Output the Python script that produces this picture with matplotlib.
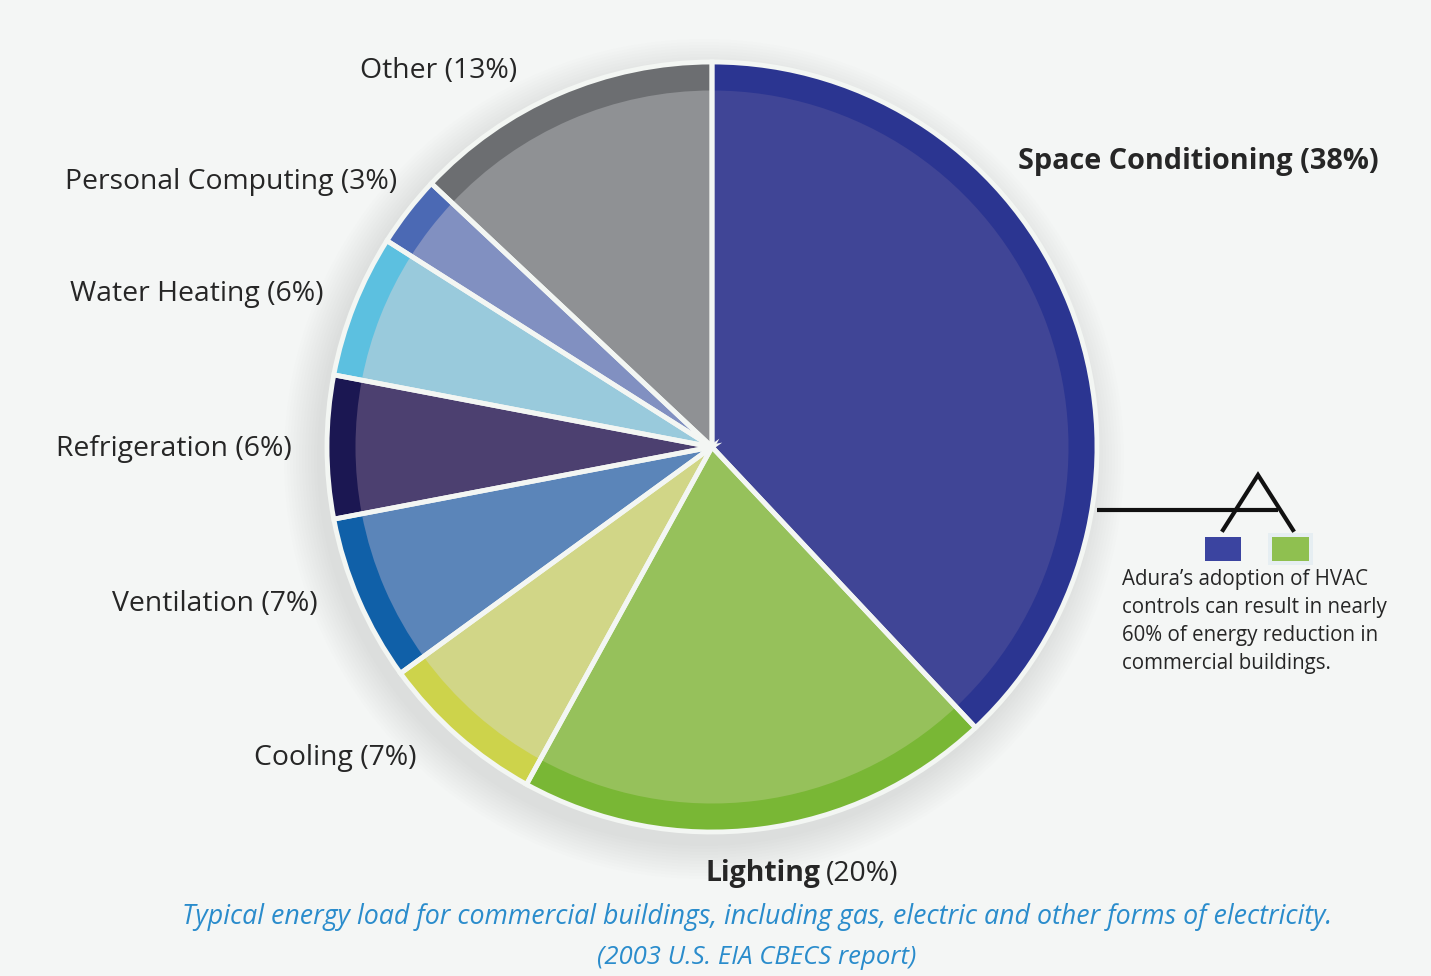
import numpy as np
import matplotlib.pyplot as plt
from matplotlib.patches import Circle, Rectangle

# energy load shares, clockwise from 12 o'clock
categories = ['Space Conditioning', 'Lighting', 'Cooling', 'Ventilation',
              'Refrigeration', 'Water Heating', 'Personal Computing', 'Other']
shares = [38, 20, 7, 7, 6, 6, 3, 13]
rim_colors = ['#2b3591', '#79b735', '#cdd34b', '#1060a8',
              '#1b1752', '#5cc0e0', '#4b69b4', '#6c6e71']
fill_colors = ['#404596', '#96c15b', '#d1d687', '#5b85b9',
               '#4c4070', '#99cadc', '#8190c1', '#8f9194']

W, H = 1431, 976
fig = plt.figure(figsize=(W / 100, H / 100), dpi=100)
fig.patch.set_facecolor('#f4f6f5')
ax = fig.add_axes([0, 0, 1, 1])
ax.set_facecolor('#f4f6f5')

cx, cy, r = 712, H - 447, 385

# soft shadow behind the pie
for k in range(12):
    ax.add_patch(Circle((cx - 8, cy - 12), r + 2 + k * 3, color='#a0a2a2',
                        alpha=0.02, lw=0, zorder=0))

common = dict(startangle=90, counterclock=False, center=(cx, cy))
ax.pie(shares, radius=r, colors=rim_colors,
       wedgeprops=dict(linewidth=0), **common)
ax.pie(shares, radius=r * 0.926, colors=fill_colors,
       wedgeprops=dict(linewidth=0), **common)
ax.pie(shares, radius=r, colors=['none'] * len(shares),
       wedgeprops=dict(edgecolor='#f3f6f3', linewidth=3.5), **common)

ax.set_xlim(0, W)
ax.set_ylim(0, H)
ax.set_aspect('equal')
ax.axis('off')

plt.rcParams['font.family'] = ['Open Sans', 'DejaVu Sans']
txt = '#262626'
fs = 20.4

# slice labels
label_pos = {
    'Other': (439, 71),
    'Personal Computing': (231, 182),
    'Water Heating': (197, 294),
    'Refrigeration': (174, 449),
    'Ventilation': (215, 604),
    'Cooling': (335, 758),
}
for name, v in zip(categories, shares):
    if name in label_pos:
        x, y = label_pos[name]
        ax.text(x, H - y, f'{name} ({v}%)', ha='center', va='center',
                fontsize=fs, color=txt)

ax.text(1198, H - 161, f'{categories[0]} ({shares[0]}%)', ha='center',
        va='center', fontsize=20.8, fontweight='bold', color=txt)
ax.text(821, H - 874, categories[1], ha='right', va='center',
        fontsize=20.4, fontweight='bold', color=txt)
ax.text(826, H - 874, f'({shares[1]}%)', ha='left', va='center',
        fontsize=fs, color=txt)

# HVAC callout
ax.plot([1097, 1278], [H - 510, H - 510], color='#111111', lw=3,
        solid_capstyle='butt')
ax.plot([1223, 1258, 1293], [H - 530, H - 475, H - 530], color='#111111',
        lw=3, solid_joinstyle='miter')
ax.add_patch(Rectangle((1205, H - 561), 36, 24, color='#3b44a0', lw=0))
ax.add_patch(Rectangle((1268, H - 565), 45, 32, color='#e6eef2', lw=0))
ax.add_patch(Rectangle((1272, H - 561), 37, 24, color='#8fc050', lw=0))
ax.text(1122, H - 569, "Adura’s adoption of HVAC\ncontrols can result in nearly\n"
        "60% of energy reduction in\ncommercial buildings.",
        ha='left', va='top', fontsize=14.8, color=txt, linespacing=1.44)

# caption
cap = '#2a8ccc'
ax.text(757, H - 917, 'Typical energy load for commercial buildings, including gas, '
        'electric and other forms of electricity.', ha='center', va='center',
        fontsize=19.3, style='italic', color=cap)
ax.text(757, H - 958, '(2003 U.S. EIA CBECS report)', ha='center', va='center',
        fontsize=18.5, style='italic', color=cap)

plt.savefig('out.png', dpi=100, facecolor=fig.get_facecolor())
